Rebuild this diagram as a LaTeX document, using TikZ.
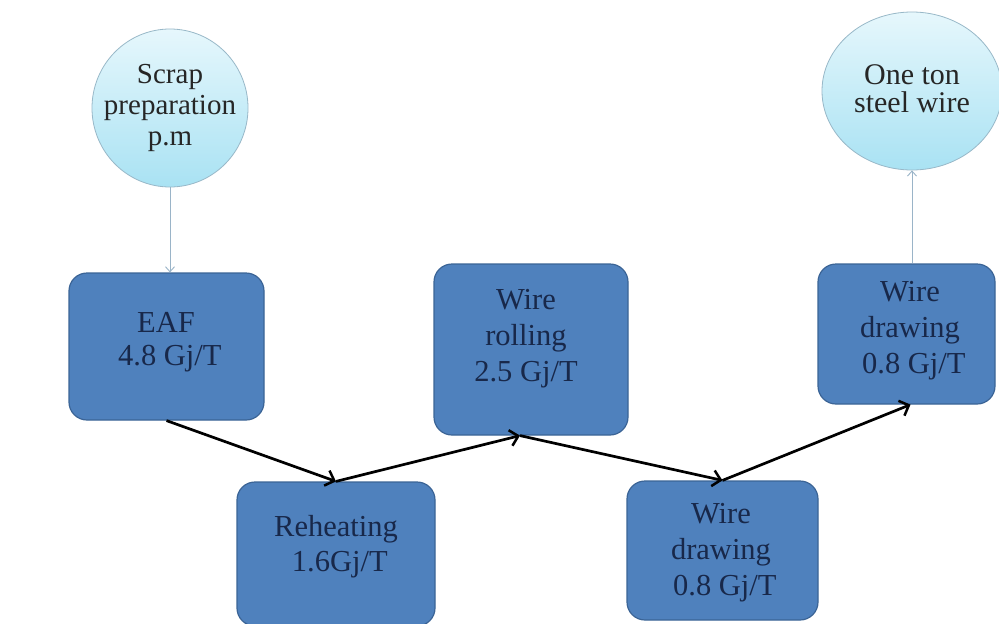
\documentclass[tikz,border=0pt]{standalone}
\usepackage{fontspec}
\setmainfont{Liberation Serif}
\usetikzlibrary{arrows.meta,shapes.geometric}
\definecolor{boxfill}{HTML}{4F81BD}
\definecolor{boxline}{HTML}{3B6496}
\definecolor{boxtext}{HTML}{18284A}
\definecolor{circtop}{HTML}{E6F7FC}
\definecolor{circbot}{HTML}{A9E2F3}
\definecolor{circline}{HTML}{98B8C8}
\definecolor{thinline}{HTML}{9AB4C8}
\begin{document}
\begin{tikzpicture}[x=1pt,y=-1pt,
  procbox/.style={draw=boxline, line width=1.2pt, fill=boxfill, rounded corners=18pt, inner sep=0pt},
  boxtxt/.style={text=boxtext, align=center, font=\fontsize{30.5}{36}\selectfont, inner sep=0pt},
  endcirc/.style={ellipse, draw=circline, line width=0.8pt, top color=circtop, bottom color=circbot, inner sep=0pt},
  circtxt/.style={text=black!85, align=center, font=\fontsize{29}{31}\selectfont, inner sep=0pt},
  flow/.style={line width=2.7pt, -{Straight Barb[length=8pt,width=16pt,line width=2.5pt]}},
  feed/.style={draw=thinline, line width=0.9pt, -{Straight Barb[length=5pt,width=9pt]}}]
\useasboundingbox (0,0) rectangle (999,624);
\fill[white] (0,0) rectangle (999,624);

% end circles
\node[endcirc, minimum width=156pt, minimum height=158pt] (scrap) at (170,108) {};
\node[circtxt] (scrapt) at (170,108) {Scrap\\preparation\\p.m};
\node[endcirc, minimum width=180pt, minimum height=158pt] (one) at (912,91) {};
\node[circtxt, font=\fontsize{30}{28}\selectfont] (onet) at (912,89) {One ton\\steel wire};

% process boxes
\node[procbox, minimum width=195pt, minimum height=147pt] (eaf) at (166.5,346.5) {};
\node[boxtxt, font=\fontsize{30.5}{33}\selectfont] (eaft) at (166,342) {EAF\\~4.8 Gj/T};
\node[procbox, minimum width=198pt, minimum height=144pt] (reh) at (336,554) {};
\node[boxtxt, font=\fontsize{30.5}{35}\selectfont] (reht) at (336,547) {Reheating\\~1.6Gj/T};
\node[procbox, minimum width=194pt, minimum height=171pt] (wr) at (531,349.5) {};
\node[boxtxt] (wrt) at (526,339) {Wire\\rolling\\2.5 Gj/T};
\node[procbox, minimum width=191pt, minimum height=139pt] (wda) at (722.5,550.5) {};
\node[boxtxt] (wdat) at (721,553) {Wire\\drawing\\~0.8 Gj/T};
\node[procbox, minimum width=177pt, minimum height=140pt] (wdb) at (906.5,334) {};
\node[boxtxt] (wdbt) at (910,331) {Wire\\drawing\\~0.8 Gj/T};

% connectors
\draw[feed] (scrap.south) -- (scrap.south |- eaf.north);
\draw[feed] (one.south |- wdb.north) -- (one.south);
\draw[flow] (eaf.south) -- (reh.north);
\draw[flow] (reh.north) -- ([xshift=-11pt]wr.south);
\draw[flow] ([xshift=-11pt]wr.south) -- (wda.north);
\draw[flow] (wda.north) -- ([xshift=4pt]wdb.south);
\end{tikzpicture}
\end{document}
